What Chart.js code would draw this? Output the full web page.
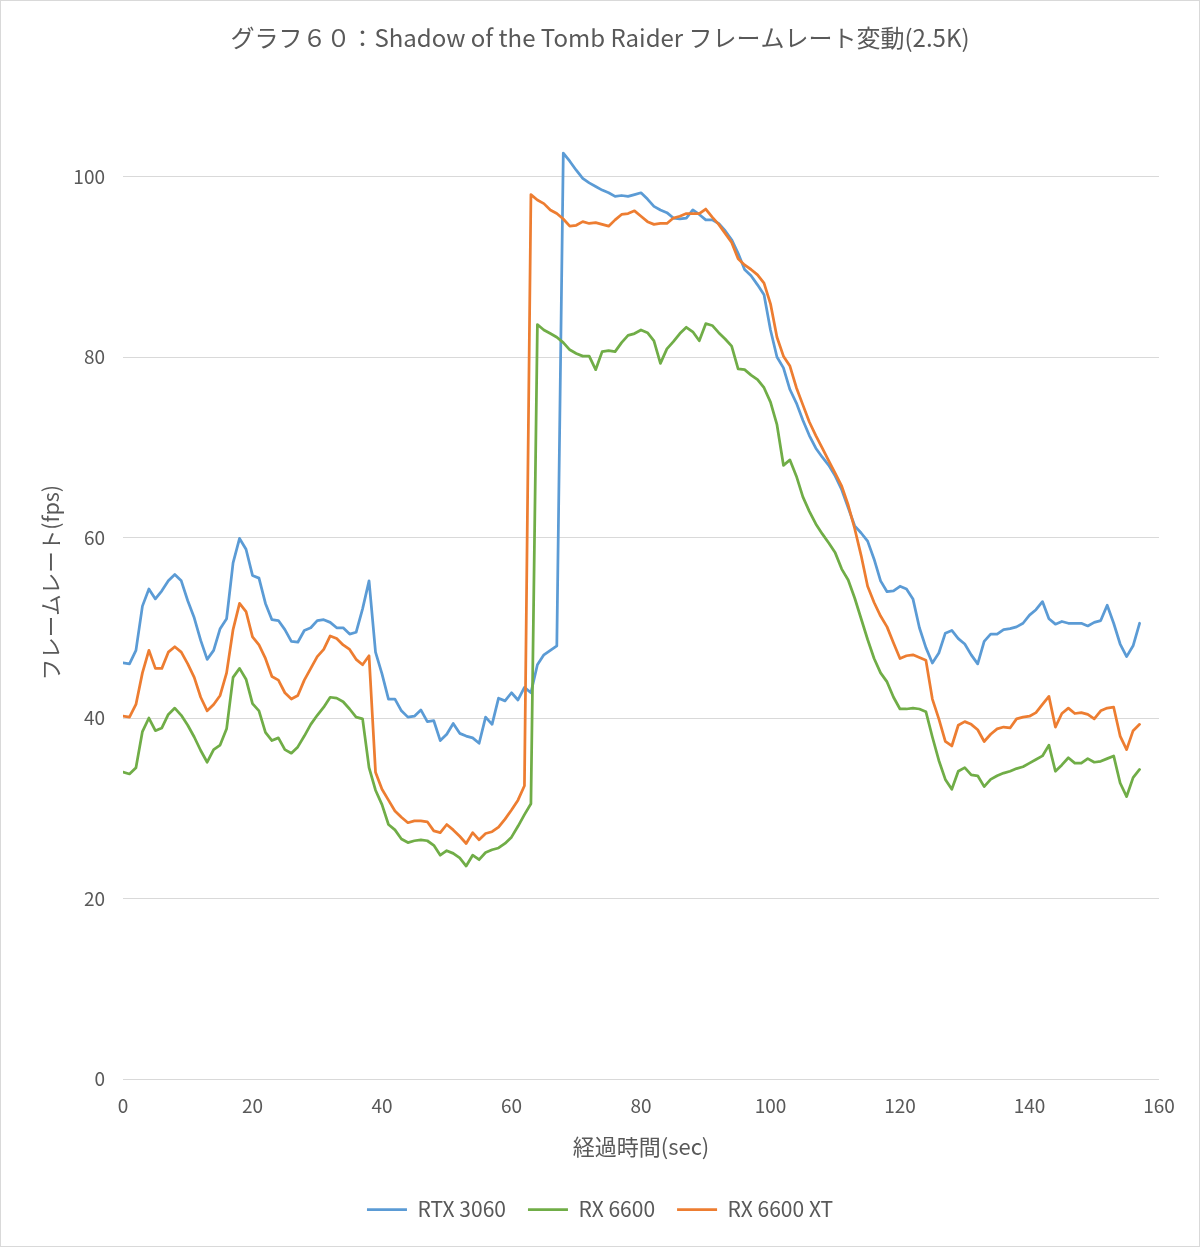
<!DOCTYPE html>
<html lang="ja">
<head>
<meta charset="utf-8">
<title>グラフ６０ Shadow of the Tomb Raider</title>
<script src="https://cdn.jsdelivr.net/npm/chart.js@4.4.1/dist/chart.umd.min.js"></script>
<style>
  body { margin: 0; background: #fff; }
  #frame { width: 1200px; height: 1247px; box-sizing: border-box; border: 1px solid #d9d9d9; background: #fff; }
  canvas { display: block; }
</style>
</head>
<body>
<div id="frame"><canvas id="lineChart" width="1198" height="1245"></canvas></div>
<script>
// one sample per second, 0..157 s
const seconds = Array.from({ length: 158 }, (_, i) => i);

const rtx3060 = [
  46.1, 46.0, 47.5, 52.4, 54.3, 53.2, 54.1, 55.2, 55.9, 55.2,
  53.0, 51.1, 48.6, 46.5, 47.5, 49.9, 51.0, 57.2, 59.9, 58.7,
  55.8, 55.5, 52.7, 50.9, 50.8, 49.8, 48.5, 48.4, 49.7, 50.0,
  50.8, 50.9, 50.6, 50.0, 50.0, 49.3, 49.5, 52.1, 55.2, 47.3,
  44.9, 42.1, 42.1, 40.8, 40.1, 40.2, 40.9, 39.6, 39.7, 37.5,
  38.2, 39.4, 38.3, 38.0, 37.8, 37.2, 40.1, 39.3, 42.2, 41.9,
  42.8, 42.0, 43.4, 42.8, 45.9, 47.0, 47.5, 48.0, 102.6, 101.7,
  100.7, 99.8, 99.3, 98.9, 98.5, 98.2, 97.8, 97.9, 97.8, 98.0,
  98.2, 97.5, 96.7, 96.3, 96.0, 95.4, 95.3, 95.4, 96.3, 95.8,
  95.2, 95.2, 94.8, 94.0, 93.0, 91.5, 89.7, 89.0, 88.0, 86.9,
  83.0, 80.0, 78.8, 76.4, 74.9, 73.0, 71.3, 69.9, 68.9, 68.0,
  66.8, 65.3, 63.3, 61.3, 60.5, 59.6, 57.6, 55.2, 54.0, 54.1,
  54.6, 54.3, 53.2, 50.0, 47.8, 46.1, 47.2, 49.4, 49.7, 48.8,
  48.2, 47.0, 46.0, 48.5, 49.3, 49.3, 49.8, 49.9, 50.1, 50.5,
  51.4, 52.0, 52.9, 51.0, 50.4, 50.7, 50.5, 50.5, 50.5, 50.2,
  50.6, 50.8, 52.5, 50.5, 48.2, 46.8, 48.0, 50.5
];

const rx6600 = [
  34.0, 33.8, 34.5, 38.5, 40.0, 38.6, 38.9, 40.4, 41.1, 40.3,
  39.2, 37.9, 36.4, 35.1, 36.5, 37.0, 38.8, 44.5, 45.5, 44.3,
  41.6, 40.8, 38.4, 37.5, 37.8, 36.5, 36.1, 36.8, 38.0, 39.3,
  40.3, 41.2, 42.3, 42.2, 41.8, 41.0, 40.1, 39.9, 34.5, 32.0,
  30.4, 28.2, 27.6, 26.6, 26.2, 26.4, 26.5, 26.4, 25.9, 24.8,
  25.3, 25.0, 24.5, 23.6, 24.8, 24.3, 25.1, 25.4, 25.6, 26.1,
  26.8, 28.0, 29.3, 30.5, 83.6, 83.0, 82.6, 82.2, 81.6, 80.8,
  80.4, 80.1, 80.1, 78.6, 80.6, 80.7, 80.6, 81.6, 82.4, 82.6,
  83.0, 82.7, 81.8, 79.3, 80.9, 81.7, 82.6, 83.3, 82.8, 81.8,
  83.7, 83.5, 82.7, 82.0, 81.2, 78.7, 78.6, 78.0, 77.5, 76.6,
  75.0, 72.5, 68.0, 68.6, 66.8, 64.5, 62.9, 61.5, 60.4, 59.4,
  58.3, 56.5, 55.3, 53.3, 51.0, 48.7, 46.6, 45.0, 44.0, 42.3,
  41.0, 41.0, 41.1, 41.0, 40.7, 37.9, 35.3, 33.2, 32.1, 34.1,
  34.5, 33.7, 33.6, 32.4, 33.2, 33.6, 33.9, 34.1, 34.4, 34.6,
  35.0, 35.4, 35.8, 37.0, 34.1, 34.8, 35.6, 35.0, 35.0, 35.5,
  35.1, 35.2, 35.5, 35.8, 32.8, 31.3, 33.4, 34.3
];

const rx6600xt = [
  40.2, 40.1, 41.5, 45.0, 47.5, 45.5, 45.5, 47.3, 47.9, 47.3,
  46.0, 44.5, 42.3, 40.8, 41.5, 42.5, 45.0, 49.8, 52.7, 51.8,
  49.0, 48.1, 46.6, 44.6, 44.2, 42.8, 42.1, 42.5, 44.2, 45.5,
  46.8, 47.6, 49.1, 48.8, 48.1, 47.6, 46.5, 45.9, 46.9, 34.0,
  32.1, 30.9, 29.7, 29.0, 28.4, 28.6, 28.6, 28.5, 27.5, 27.3,
  28.2, 27.6, 26.9, 26.1, 27.3, 26.5, 27.2, 27.4, 27.9, 28.8,
  29.8, 30.9, 32.5, 98.0, 97.4, 97.0, 96.3, 95.9, 95.3, 94.5,
  94.6, 95.0, 94.8, 94.9, 94.7, 94.5, 95.2, 95.8, 95.9, 96.2,
  95.6, 95.0, 94.7, 94.8, 94.8, 95.4, 95.6, 95.9, 95.9, 95.9,
  96.4, 95.5, 94.7, 93.7, 92.7, 90.9, 90.2, 89.7, 89.1, 88.2,
  85.9, 82.2, 80.1, 79.0, 76.6, 74.7, 72.8, 71.3, 69.9, 68.5,
  67.1, 65.7, 63.6, 61.0, 58.0, 54.6, 52.8, 51.3, 50.1, 48.3,
  46.6, 46.9, 47.0, 46.7, 46.4, 42.1, 39.9, 37.4, 36.9, 39.2,
  39.6, 39.3, 38.7, 37.4, 38.2, 38.8, 39.0, 38.9, 39.9, 40.1,
  40.2, 40.6, 41.5, 42.4, 39.0, 40.5, 41.1, 40.5, 40.6, 40.4,
  39.9, 40.8, 41.1, 41.2, 38.0, 36.5, 38.6, 39.3
];

const seriesNames = ['RTX 3060', 'RX 6600', 'RX 6600 XT'];
const xTicks = [0, 20, 40, 60, 80, 100, 120, 140, 160];
const yTicks = [0, 20, 40, 60, 80, 100];

const textColor = '#595959';
Chart.defaults.font.family = "'Noto Sans CJK JP', 'Noto Sans', sans-serif";
Chart.defaults.color = textColor;

function toPoints(values) {
  return values.map((v, i) => ({ x: seconds[i], y: v }));
}

function lineSet(label, values, color, order) {
  return {
    label: label,
    data: toPoints(values),
    borderColor: color,
    backgroundColor: color,
    borderWidth: 2.75,
    borderJoinStyle: 'round',
    borderCapStyle: 'round',
    pointRadius: 0,
    pointStyle: 'line',
    tension: 0,
    fill: false,
    order: order
  };
}

const lineChart = document.getElementById('lineChart');

const myChart = new Chart(lineChart, {
  type: 'line',
  data: {
    datasets: [
      lineSet(seriesNames[0], rtx3060, '#5B9BD5', 3),
      lineSet(seriesNames[1], rx6600, '#70AD47', 2),
      lineSet(seriesNames[2], rx6600xt, '#ED7D31', 1)
    ]
  },
  options: {
    responsive: false,
    animation: false,
    layout: {
      padding: { left: 20, right: 20, top: 0, bottom: 16 }
    },
    scales: {
      x: {
        type: 'linear',
        min: 0,
        max: 160,
        afterBuildTicks: (axis) => { axis.ticks = xTicks.map(v => ({ value: v })); },
        afterFit: (scale) => { scale.height = 98; },
        ticks: {
          color: textColor,
          font: { size: 19 },
          padding: 7,
          maxRotation: 0
        },
        grid: { display: false },
        border: { display: false },
        title: {
          display: true,
          text: '経過時間(sec)',
          color: textColor,
          font: { size: 22 },
          padding: { top: 0, bottom: 17.5 }
        }
      },
      y: {
        min: 0,
        max: 110,
        afterBuildTicks: (axis) => { axis.ticks = yTicks.map(v => ({ value: v })); },
        afterFit: (scale) => { scale.width = 102; },
        ticks: {
          color: textColor,
          font: { size: 19 },
          padding: 18
        },
        grid: {
          color: '#d9d9d9',
          lineWidth: 1,
          drawTicks: false
        },
        border: { display: false },
        title: {
          display: true,
          text: 'フレームレート(fps)',
          color: textColor,
          font: { size: 21.5 },
          padding: { top: 17, bottom: 0 }
        }
      },
      // empty right-hand strip so the plot ends where the original does
      yRight: {
        position: 'right',
        min: 0,
        max: 110,
        afterFit: (scale) => { scale.width = 20; },
        ticks: { display: false },
        grid: { display: false },
        border: { display: false }
      }
    },
    plugins: {
      title: {
        display: true,
        text: 'グラフ６０：Shadow of the Tomb Raider フレームレート変動(2.5K)',
        color: textColor,
        font: { size: 24, weight: 'normal' },
        padding: { top: 22, bottom: 34.5 }
      },
      legend: {
        position: 'bottom',
        labels: {
          usePointStyle: true,
          pointStyleWidth: 40,
          color: textColor,
          font: { size: 21 },
          padding: 22,
          sort: (a, b) => a.datasetIndex - b.datasetIndex
        }
      },
      tooltip: { enabled: false }
    }
  }
});
</script>
</body>
</html>
